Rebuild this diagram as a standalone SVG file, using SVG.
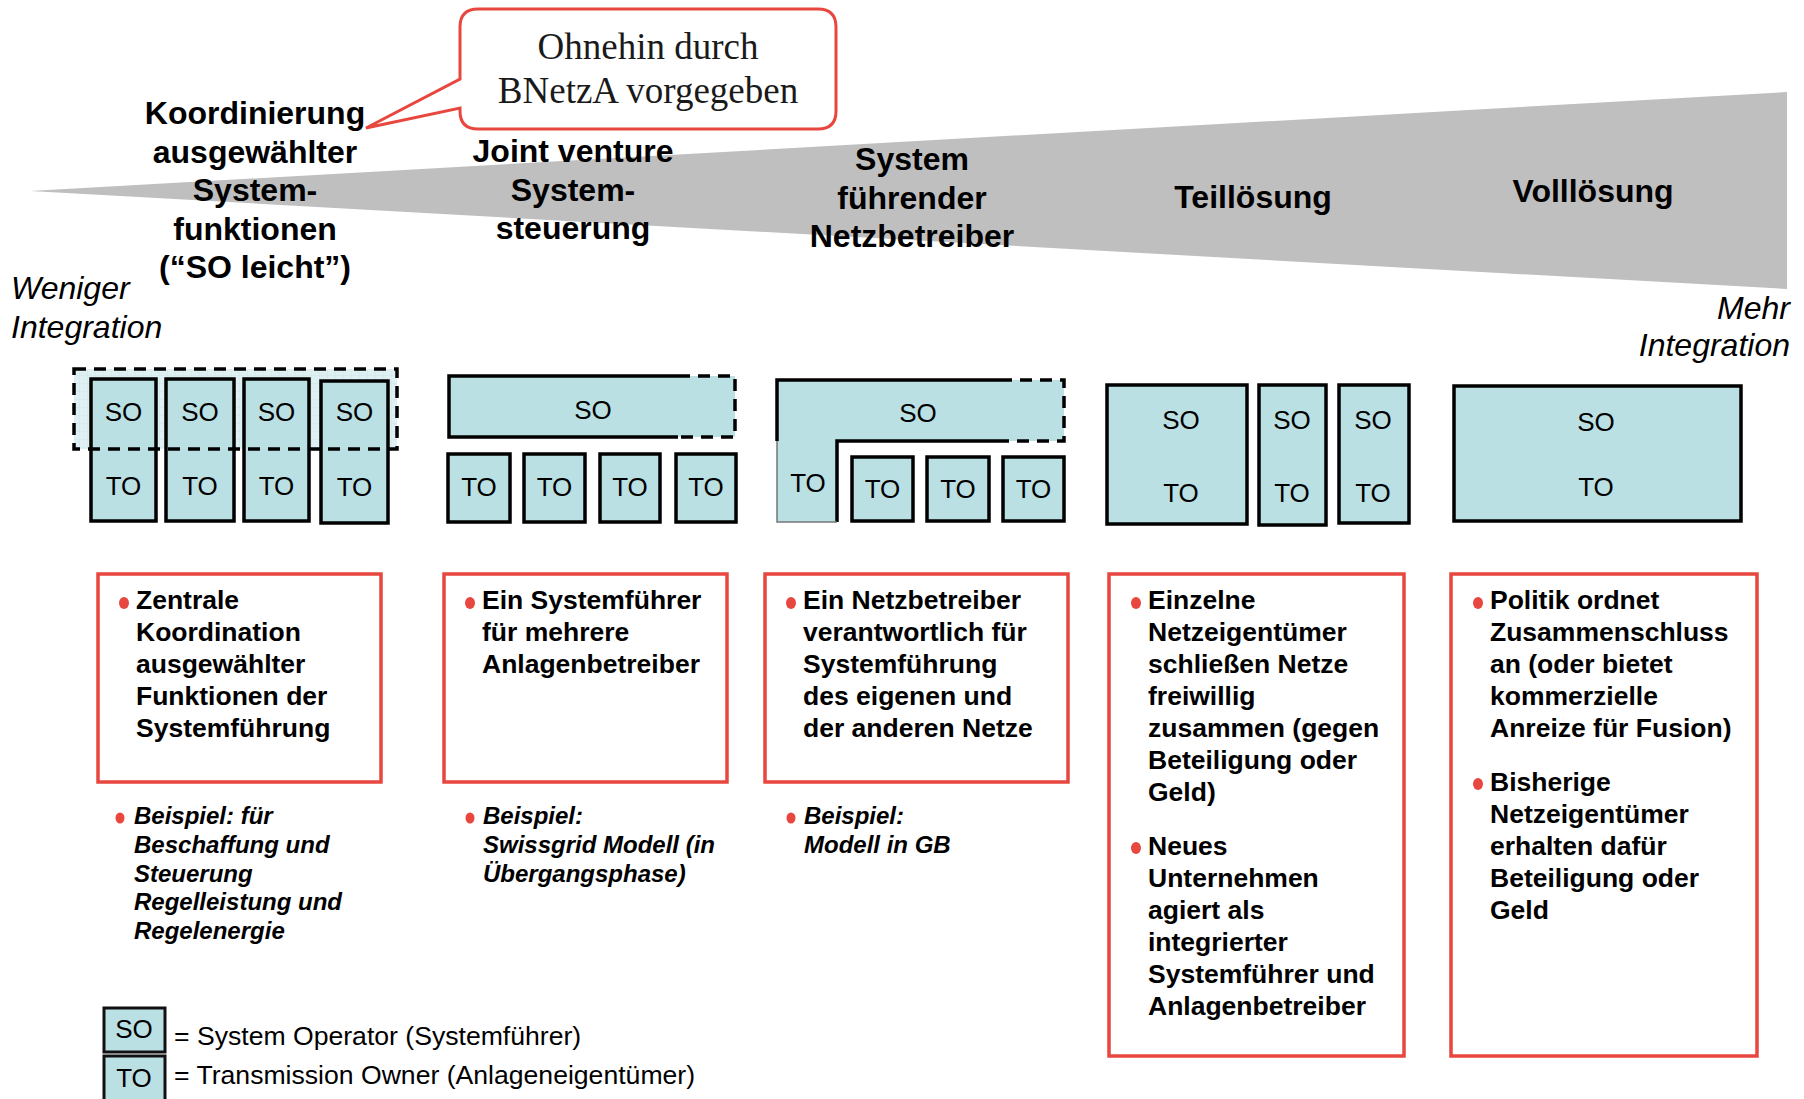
<svg xmlns="http://www.w3.org/2000/svg" width="1804" height="1099" viewBox="0 0 1804 1099">
<defs>
<style>
.hd{font-family:"Liberation Sans",Arial,sans-serif;font-weight:bold;font-size:32px;fill:#000;text-anchor:middle}
.side{font-family:"Liberation Sans",Arial,sans-serif;font-style:italic;font-size:32px;fill:#000}
.lbl{font-family:"Liberation Sans",Arial,sans-serif;font-size:26px;fill:#000;text-anchor:middle}
.bx{fill:#bae0e3;stroke:#000;stroke-width:3.5}
.fill{fill:#bae0e3;stroke:none}
.solid{fill:none;stroke:#000;stroke-width:3.5}
.dash{fill:none;stroke:#000;stroke-width:3.5;stroke-dasharray:12 8}
.red{fill:#fff;stroke:#e8473f;stroke-width:3.5}
.bt{font-family:"Liberation Sans",Arial,sans-serif;font-weight:bold;font-size:26.5px;fill:#000}
.ex{font-family:"Liberation Sans",Arial,sans-serif;font-weight:bold;font-style:italic;font-size:24px;fill:#000}
.bul{fill:#e8473f}
.leg{font-family:"Liberation Sans",Arial,sans-serif;font-size:26.6px;fill:#000}
</style>
<pattern id="grid" width="8" height="8" patternUnits="userSpaceOnUse">
<rect width="8" height="8" fill="#dff0f2"/>
<path d="M8,0 V8 M0,8 H8" stroke="#cde6e9" stroke-width="1"/>
</pattern>
</defs>
<rect width="1804" height="1099" fill="#fff"/>

<g id="wedge">
<polygon points="30,191 1787,92 1787,289" fill="#bfbfbf"/>
</g>

<g id="callout">
<path d="M478,9 H818 Q836,9 836,27 V111 Q836,129 818,129 H478 Q460,129 460,111 V108 L366,128 L460,79 V27 Q460,9 478,9 Z" fill="#fff" stroke="#e8473f" stroke-width="3"/>
<text x="648" y="59" font-family="'Liberation Serif','Times New Roman',serif" font-size="37" fill="#1a1a1a" text-anchor="middle">Ohnehin durch</text>
<text x="648" y="103" font-family="'Liberation Serif','Times New Roman',serif" font-size="37" fill="#1a1a1a" text-anchor="middle">BNetzA vorgegeben</text>
</g>

<g id="side-labels">
<text class="side" x="11" y="299">Weniger</text>
<text class="side" x="11" y="338">Integration</text>
<text class="side" x="1790" y="319" text-anchor="end">Mehr</text>
<text class="side" x="1790" y="356" text-anchor="end">Integration</text>
</g>

<g id="headings">
<text class="hd" x="255" y="124">Koordinierung</text>
<text class="hd" x="255" y="163">ausgewählter</text>
<text class="hd" x="255" y="201">System-</text>
<text class="hd" x="255" y="240">funktionen</text>
<text class="hd" x="255" y="278">(“SO leicht”)</text>
<text class="hd" x="573" y="162">Joint venture</text>
<text class="hd" x="573" y="201">System-</text>
<text class="hd" x="573" y="239">steuerung</text>
<text class="hd" x="912" y="170">System</text>
<text class="hd" x="912" y="209">führender</text>
<text class="hd" x="912" y="247">Netzbetreiber</text>
<text class="hd" x="1253" y="208">Teillösung</text>
<text class="hd" x="1593" y="202">Volllösung</text>
</g>

<g id="model-1">
<rect x="74" y="369" width="323" height="80" fill="url(#grid)"/>
<rect class="bx" x="91" y="379" width="65" height="142"/>
<rect class="bx" x="166" y="379" width="68" height="142"/>
<rect class="bx" x="244" y="379" width="65" height="142"/>
<rect class="bx" x="321" y="381" width="67" height="142"/>
<rect class="dash" x="74" y="369" width="323" height="80" stroke-width="4"/>
<text class="lbl" x="123.5" y="421">SO</text>
<text class="lbl" x="200" y="421">SO</text>
<text class="lbl" x="276.5" y="421">SO</text>
<text class="lbl" x="354.5" y="421">SO</text>
<text class="lbl" x="123.5" y="495">TO</text>
<text class="lbl" x="200" y="495">TO</text>
<text class="lbl" x="276.5" y="495">TO</text>
<text class="lbl" x="354.5" y="496">TO</text>
</g>

<g id="model-2">
<rect class="fill" x="449" y="376" width="286" height="61"/>
<path class="solid" d="M678,376 H449 V437 H678"/>
<path class="dash" d="M678,376 H735 V437 H678"/>
<text class="lbl" x="593" y="419">SO</text>
<rect class="bx" x="448" y="454" width="62" height="68"/>
<rect class="bx" x="524" y="454" width="61" height="68"/>
<rect class="bx" x="600" y="454" width="60" height="68"/>
<rect class="bx" x="676" y="454" width="60" height="68"/>
<text class="lbl" x="479" y="496">TO</text>
<text class="lbl" x="554.5" y="496">TO</text>
<text class="lbl" x="630" y="496">TO</text>
<text class="lbl" x="706" y="496">TO</text>
</g>

<g id="model-3">
<polygon class="fill" points="777,380 1064,380 1064,441 837,441 837,522 777,522"/>
<path class="solid" d="M1000,380 H777 V441"/>
<path class="solid" d="M1000,441 H837 V522"/>
<path d="M777,441 V522 H837" fill="none" stroke="#777" stroke-width="1.5"/>
<path class="dash" d="M1000,380 H1064 V441 H1000"/>
<text class="lbl" x="918" y="422">SO</text>
<text class="lbl" x="808" y="492">TO</text>
<rect class="bx" x="852" y="457" width="61" height="64"/>
<rect class="bx" x="927" y="457" width="62" height="64"/>
<rect class="bx" x="1003" y="457" width="61" height="64"/>
<text class="lbl" x="882.5" y="498">TO</text>
<text class="lbl" x="958" y="498">TO</text>
<text class="lbl" x="1033.5" y="498">TO</text>
</g>

<g id="model-4">
<rect class="bx" x="1107" y="385" width="140" height="139"/>
<rect class="bx" x="1259" y="385" width="67" height="140"/>
<rect class="bx" x="1339" y="385" width="70" height="138"/>
<text class="lbl" x="1181" y="429">SO</text>
<text class="lbl" x="1292" y="429">SO</text>
<text class="lbl" x="1373" y="429">SO</text>
<text class="lbl" x="1181" y="502">TO</text>
<text class="lbl" x="1292" y="502">TO</text>
<text class="lbl" x="1373" y="502">TO</text>
</g>

<g id="model-5">
<rect class="bx" x="1454" y="386" width="287" height="135"/>
<text class="lbl" x="1596" y="431">SO</text>
<text class="lbl" x="1596" y="496">TO</text>
</g>

<g id="desc-1">
<rect class="red" x="98" y="574" width="283" height="208"/>
<ellipse class="bul" cx="124" cy="603" rx="5" ry="6"/>
<text class="bt" x="136" y="609">Zentrale</text>
<text class="bt" x="136" y="641">Koordination</text>
<text class="bt" x="136" y="673">ausgewählter</text>
<text class="bt" x="136" y="705">Funktionen der</text>
<text class="bt" x="136" y="737">Systemführung</text>
</g>

<g id="desc-2">
<rect class="red" x="444" y="574" width="283" height="208"/>
<ellipse class="bul" cx="470" cy="603" rx="5" ry="6"/>
<text class="bt" x="482" y="609">Ein Systemführer</text>
<text class="bt" x="482" y="641">für mehrere</text>
<text class="bt" x="482" y="673">Anlagenbetreiber</text>
</g>

<g id="desc-3">
<rect class="red" x="765" y="574" width="303" height="208"/>
<ellipse class="bul" cx="791" cy="603" rx="5" ry="6"/>
<text class="bt" x="803" y="609">Ein Netzbetreiber</text>
<text class="bt" x="803" y="641">verantwortlich für</text>
<text class="bt" x="803" y="673">Systemführung</text>
<text class="bt" x="803" y="705">des eigenen und</text>
<text class="bt" x="803" y="737">der anderen Netze</text>
</g>

<g id="desc-4">
<rect class="red" x="1109" y="574" width="295" height="482"/>
<ellipse class="bul" cx="1136" cy="603" rx="5" ry="6"/>
<text class="bt" x="1148" y="609">Einzelne</text>
<text class="bt" x="1148" y="641">Netzeigentümer</text>
<text class="bt" x="1148" y="673">schließen Netze</text>
<text class="bt" x="1148" y="705">freiwillig</text>
<text class="bt" x="1148" y="737">zusammen (gegen</text>
<text class="bt" x="1148" y="769">Beteiligung oder</text>
<text class="bt" x="1148" y="801">Geld)</text>
<ellipse class="bul" cx="1136" cy="848" rx="5" ry="6"/>
<text class="bt" x="1148" y="855">Neues</text>
<text class="bt" x="1148" y="887">Unternehmen</text>
<text class="bt" x="1148" y="919">agiert als</text>
<text class="bt" x="1148" y="951">integrierter</text>
<text class="bt" x="1148" y="983">Systemführer und</text>
<text class="bt" x="1148" y="1015">Anlagenbetreiber</text>
</g>

<g id="desc-5">
<rect class="red" x="1451" y="574" width="306" height="482"/>
<ellipse class="bul" cx="1478" cy="603" rx="5" ry="6"/>
<text class="bt" x="1490" y="609">Politik ordnet</text>
<text class="bt" x="1490" y="641">Zusammenschluss</text>
<text class="bt" x="1490" y="673">an (oder bietet</text>
<text class="bt" x="1490" y="705">kommerzielle</text>
<text class="bt" x="1490" y="737">Anreize für Fusion)</text>
<ellipse class="bul" cx="1478" cy="784" rx="5" ry="6"/>
<text class="bt" x="1490" y="791">Bisherige</text>
<text class="bt" x="1490" y="823">Netzeigentümer</text>
<text class="bt" x="1490" y="855">erhalten dafür</text>
<text class="bt" x="1490" y="887">Beteiligung oder</text>
<text class="bt" x="1490" y="919">Geld</text>
</g>

<g id="example-1">
<ellipse class="bul" cx="120" cy="818" rx="4.5" ry="5.5"/>
<text class="ex" x="134" y="824">Beispiel: für</text>
<text class="ex" x="134" y="853">Beschaffung und</text>
<text class="ex" x="134" y="882">Steuerung</text>
<text class="ex" x="134" y="910">Regelleistung und</text>
<text class="ex" x="134" y="939">Regelenergie</text>
</g>

<g id="example-2">
<ellipse class="bul" cx="470" cy="818" rx="4.5" ry="5.5"/>
<text class="ex" x="483" y="824">Beispiel:</text>
<text class="ex" x="483" y="853">Swissgrid Modell (in</text>
<text class="ex" x="483" y="882">Übergangsphase)</text>
</g>

<g id="example-3">
<ellipse class="bul" cx="791" cy="818" rx="4.5" ry="5.5"/>
<text class="ex" x="804" y="824">Beispiel:</text>
<text class="ex" x="804" y="853">Modell in GB</text>
</g>

<g id="legend">
<rect x="104" y="1008" width="61" height="44" fill="#bae0e3" stroke="#111" stroke-width="3"/>
<rect x="104" y="1056" width="61" height="50" fill="#bae0e3" stroke="#111" stroke-width="3"/>
<text class="lbl" x="134" y="1038">SO</text>
<text class="lbl" x="134" y="1087">TO</text>
<text class="leg" x="174" y="1045">= System Operator (Systemführer)</text>
<text class="leg" x="174" y="1084">= Transmission Owner (Anlageneigentümer)</text>
</g>

<g id="connectors"></g>
</svg>
